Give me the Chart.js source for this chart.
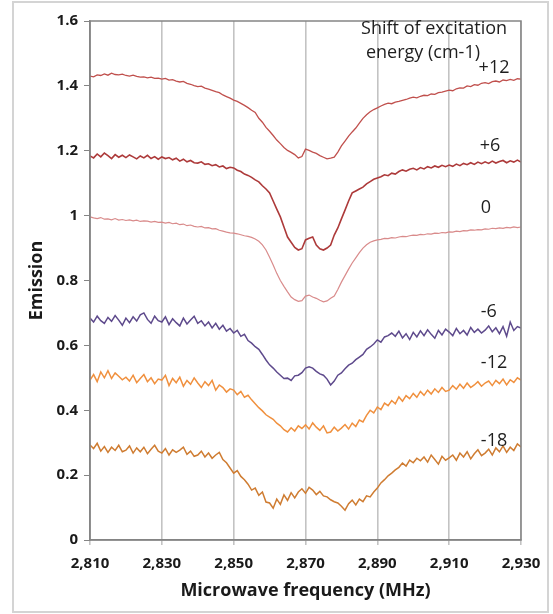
<!DOCTYPE html>
<html>
<head>
<meta charset="utf-8">
<script src="https://cdn.jsdelivr.net/npm/chart.js@4.4.1/dist/chart.umd.min.js"></script>
<style>
    html, body { margin: 0; padding: 0; background: #fff; }
    #wrap { width: 553px; height: 614px; }
</style>
</head>
<body>
<div id="wrap"><canvas id="emission" width="553" height="614"></canvas></div>
<script>
        // 주파수 (MHz)
        const freq = [
            2810, 2811, 2812, 2813, 2814, 2815, 2816, 2817, 2818, 2819,
            2820, 2821, 2822, 2823, 2824, 2825, 2826, 2827, 2828, 2829,
            2830, 2831, 2832, 2833, 2834, 2835, 2836, 2837, 2838, 2839,
            2840, 2841, 2842, 2843, 2844, 2845, 2846, 2847, 2848, 2849,
            2850, 2851, 2852, 2853, 2854, 2855, 2856, 2857, 2858, 2859,
            2860, 2861, 2862, 2863, 2864, 2865, 2866, 2867, 2868, 2869,
            2870, 2871, 2872, 2873, 2874, 2875, 2876, 2877, 2878, 2879,
            2880, 2881, 2882, 2883, 2884, 2885, 2886, 2887, 2888, 2889,
            2890, 2891, 2892, 2893, 2894, 2895, 2896, 2897, 2898, 2899,
            2900, 2901, 2902, 2903, 2904, 2905, 2906, 2907, 2908, 2909,
            2910, 2911, 2912, 2913, 2914, 2915, 2916, 2917, 2918, 2919,
            2920, 2921, 2922, 2923, 2924, 2925, 2926, 2927, 2928, 2929,
            2930
        ];

        const shiftNames = ['+12', '+6', '0', '-6', '-12', '-18'];

        const plus12 = [
            1.430, 1.428, 1.434, 1.432, 1.437, 1.433, 1.439, 1.435, 1.434, 1.436,
            1.432, 1.430, 1.433, 1.429, 1.427, 1.428, 1.425, 1.427, 1.423, 1.424,
            1.421, 1.423, 1.418, 1.419, 1.415, 1.412, 1.414, 1.408, 1.405, 1.401,
            1.398, 1.399, 1.393, 1.390, 1.386, 1.382, 1.379, 1.372, 1.367, 1.362,
            1.356, 1.352, 1.346, 1.340, 1.333, 1.325, 1.318, 1.300, 1.288, 1.272,
            1.260, 1.247, 1.233, 1.222, 1.210, 1.201, 1.195, 1.188, 1.178, 1.182,
            1.205, 1.201, 1.196, 1.192, 1.185, 1.180, 1.175, 1.177, 1.180, 1.196,
            1.215, 1.230, 1.245, 1.258, 1.270, 1.285, 1.300, 1.311, 1.320, 1.327,
            1.332, 1.338, 1.343, 1.347, 1.345, 1.350, 1.352, 1.355, 1.358, 1.362,
            1.365, 1.363, 1.368, 1.371, 1.370, 1.375, 1.374, 1.379, 1.381, 1.384,
            1.387, 1.385, 1.391, 1.394, 1.393, 1.400, 1.398, 1.404, 1.402, 1.408,
            1.410, 1.407, 1.413, 1.415, 1.412, 1.418, 1.416, 1.420, 1.417, 1.422,
            1.421
        ];

        const plus6 = [
            1.184, 1.178, 1.190, 1.181, 1.193, 1.185, 1.176, 1.188, 1.180, 1.186,
            1.179, 1.187, 1.181, 1.175, 1.184, 1.178, 1.186, 1.176, 1.182, 1.174,
            1.181, 1.176, 1.179, 1.172, 1.177, 1.168, 1.174, 1.166, 1.170, 1.163,
            1.162, 1.166, 1.158, 1.160, 1.154, 1.157, 1.150, 1.153, 1.145, 1.149,
            1.147, 1.140, 1.136, 1.128, 1.124, 1.118, 1.110, 1.104, 1.092, 1.082,
            1.070, 1.045, 1.020, 0.996, 0.965, 0.934, 0.918, 0.902, 0.894, 0.898,
            0.925, 0.930, 0.934, 0.909, 0.898, 0.894, 0.900, 0.909, 0.940, 0.962,
            0.990, 1.017, 1.045, 1.070, 1.076, 1.082, 1.088, 1.098, 1.105, 1.112,
            1.116, 1.120, 1.126, 1.123, 1.131, 1.128, 1.136, 1.141, 1.137, 1.143,
            1.146, 1.141, 1.148, 1.144, 1.151, 1.147, 1.153, 1.149, 1.155, 1.151,
            1.156, 1.152, 1.159, 1.154, 1.161, 1.157, 1.163, 1.158, 1.165, 1.160,
            1.166, 1.161, 1.168, 1.162, 1.167, 1.170, 1.163, 1.169, 1.165, 1.171,
            1.165
        ];

        const zero = [
            0.996, 0.993, 0.991, 0.994, 0.989, 0.990, 0.987, 0.991, 0.986, 0.988,
            0.985, 0.987, 0.984, 0.986, 0.982, 0.984, 0.983, 0.980, 0.982, 0.979,
            0.980, 0.977, 0.979, 0.975, 0.977, 0.972, 0.974, 0.969, 0.971, 0.967,
            0.965, 0.967, 0.962, 0.963, 0.959, 0.960, 0.955, 0.952, 0.949, 0.947,
            0.946, 0.944, 0.941, 0.938, 0.936, 0.933, 0.928, 0.921, 0.910, 0.894,
            0.872, 0.848, 0.822, 0.800, 0.782, 0.765, 0.749, 0.741, 0.736, 0.738,
            0.752, 0.755, 0.749, 0.745, 0.739, 0.734, 0.737, 0.745, 0.752, 0.772,
            0.795, 0.815, 0.835, 0.854, 0.870, 0.886, 0.900, 0.910, 0.918, 0.922,
            0.925, 0.927, 0.930, 0.929, 0.932, 0.931, 0.934, 0.936, 0.935, 0.938,
            0.940, 0.939, 0.942, 0.941, 0.944, 0.943, 0.946, 0.945, 0.948, 0.947,
            0.950, 0.949, 0.952, 0.951, 0.954, 0.953, 0.956, 0.955, 0.957, 0.956,
            0.959, 0.958, 0.961, 0.960, 0.962, 0.961, 0.964, 0.962, 0.965, 0.963,
            0.965
        ];

        const minus6 = [
            0.684, 0.672, 0.690, 0.676, 0.668, 0.686, 0.674, 0.692, 0.678, 0.662,
            0.684, 0.670, 0.688, 0.675, 0.694, 0.700, 0.680, 0.668, 0.690, 0.676,
            0.672, 0.688, 0.664, 0.682, 0.670, 0.660, 0.684, 0.666, 0.678, 0.690,
            0.668, 0.676, 0.660, 0.672, 0.654, 0.668, 0.650, 0.662, 0.644, 0.652,
            0.638, 0.646, 0.628, 0.634, 0.615, 0.607, 0.596, 0.588, 0.572, 0.555,
            0.540, 0.530, 0.518, 0.508, 0.498, 0.499, 0.492, 0.506, 0.508, 0.516,
            0.530, 0.534, 0.530, 0.520, 0.512, 0.508, 0.496, 0.478, 0.490, 0.508,
            0.515, 0.528, 0.539, 0.545, 0.556, 0.564, 0.572, 0.588, 0.595, 0.604,
            0.617, 0.610, 0.626, 0.630, 0.638, 0.628, 0.644, 0.623, 0.636, 0.618,
            0.640, 0.626, 0.645, 0.630, 0.648, 0.634, 0.622, 0.646, 0.632, 0.650,
            0.641, 0.630, 0.652, 0.636, 0.646, 0.632, 0.655, 0.640, 0.650, 0.638,
            0.647, 0.660, 0.642, 0.654, 0.636, 0.658, 0.628, 0.672, 0.646, 0.658,
            0.653
        ];

        const minus12 = [
            0.493, 0.510, 0.488, 0.518, 0.500, 0.522, 0.498, 0.515, 0.505, 0.494,
            0.502, 0.490, 0.508, 0.485, 0.498, 0.510, 0.488, 0.500, 0.482, 0.496,
            0.493, 0.508, 0.476, 0.498, 0.485, 0.502, 0.474, 0.492, 0.480, 0.500,
            0.484, 0.470, 0.488, 0.476, 0.492, 0.462, 0.478, 0.470, 0.456, 0.466,
            0.462, 0.448, 0.458, 0.440, 0.446, 0.432, 0.420, 0.408, 0.398, 0.386,
            0.379, 0.372, 0.360, 0.352, 0.340, 0.333, 0.346, 0.336, 0.352, 0.344,
            0.355, 0.342, 0.361, 0.348, 0.338, 0.352, 0.330, 0.333, 0.348, 0.336,
            0.345, 0.356, 0.342, 0.360, 0.350, 0.370, 0.364, 0.384, 0.400, 0.392,
            0.410, 0.402, 0.422, 0.414, 0.430, 0.420, 0.441, 0.428, 0.445, 0.436,
            0.452, 0.440, 0.458, 0.446, 0.462, 0.450, 0.466, 0.455, 0.470, 0.458,
            0.462, 0.476, 0.465, 0.480, 0.468, 0.484, 0.470, 0.478, 0.488, 0.474,
            0.484, 0.490, 0.476, 0.492, 0.482, 0.496, 0.478, 0.494, 0.486, 0.500,
            0.493
        ];

        const minus18 = [
            0.293, 0.282, 0.298, 0.274, 0.288, 0.270, 0.286, 0.276, 0.292, 0.272,
            0.277, 0.290, 0.268, 0.284, 0.272, 0.286, 0.266, 0.280, 0.292, 0.274,
            0.268, 0.282, 0.262, 0.278, 0.270, 0.277, 0.286, 0.264, 0.274, 0.258,
            0.262, 0.274, 0.256, 0.268, 0.252, 0.262, 0.270, 0.248, 0.238, 0.222,
            0.206, 0.214, 0.196, 0.186, 0.172, 0.154, 0.160, 0.138, 0.148, 0.117,
            0.114, 0.098, 0.126, 0.110, 0.139, 0.122, 0.146, 0.130, 0.148, 0.158,
            0.144, 0.162, 0.154, 0.140, 0.150, 0.136, 0.133, 0.124, 0.118, 0.114,
            0.104, 0.092, 0.112, 0.123, 0.108, 0.126, 0.118, 0.136, 0.133, 0.148,
            0.160, 0.176, 0.186, 0.198, 0.206, 0.216, 0.224, 0.237, 0.228, 0.246,
            0.238, 0.252, 0.244, 0.256, 0.240, 0.262, 0.248, 0.234, 0.258, 0.246,
            0.253, 0.262, 0.246, 0.268, 0.256, 0.272, 0.250, 0.266, 0.278, 0.260,
            0.268, 0.280, 0.262, 0.284, 0.272, 0.290, 0.270, 0.286, 0.276, 0.296,
            0.287
        ];

        const yTicks = [0, 0.2, 0.4, 0.6, 0.8, 1, 1.2, 1.4, 1.6];

        const FONT = '"Open Sans", "DejaVu Sans", sans-serif';

        // 곡선마다 색상, 선 굵기
        function makeSet(name, values, color, width) {
            return {
                label: name,
                data: freq.map((f, i) => ({ x: f, y: values[i] })),
                borderColor: color,
                borderWidth: width,
                pointRadius: 0,
                tension: 0,
                fill: false
            };
        }

        // 바깥 테두리, 플롯 박스
        const framePlugin = {
            id: 'frame',
            beforeDraw(chart) {
                const ctx = chart.ctx;
                ctx.save();
                ctx.fillStyle = '#fff';
                ctx.fillRect(0, 0, chart.width, chart.height);
                ctx.strokeStyle = '#d4d4d4';
                ctx.lineWidth = 2;
                ctx.strokeRect(13, 2, 535, 610);
                ctx.restore();
            },
            afterDatasetsDraw(chart) {
                const { ctx, chartArea: a } = chart;
                ctx.save();
                ctx.strokeStyle = '#858585';
                ctx.lineWidth = 1.5;
                ctx.strokeRect(a.left, a.top, a.right - a.left, a.bottom - a.top);
                ctx.restore();
            }
        };

        // 곡선 이름 + 설명
        const labelPlugin = {
            id: 'shiftLabels',
            afterDraw(chart) {
                const { ctx, scales: { x, y } } = chart;
                const spots = [
                    [2922.5, 1.455], [2921.4, 1.215], [2920.2, 1.023],
                    [2921.0, 0.703], [2922.5, 0.546], [2922.5, 0.305]
                ];
                ctx.save();
                ctx.fillStyle = '#1e1e1e';
                ctx.textAlign = 'center';
                ctx.textBaseline = 'middle';
                ctx.font = '18px ' + FONT;
                shiftNames.forEach((n, i) => {
                    ctx.fillText(n, x.getPixelForValue(spots[i][0]), y.getPixelForValue(spots[i][1]));
                });
                ctx.fillText('Shift of excitation', x.getPixelForValue(2905.8), y.getPixelForValue(1.576));
                ctx.fillText('energy (cm-1)', x.getPixelForValue(2902.7), y.getPixelForValue(1.502));
                ctx.restore();
            }
        };

        const ctx = document.getElementById('emission').getContext('2d');

        new Chart(ctx, {
            type: 'line',
            data: {
                datasets: [
                    makeSet('+12', plus12, '#c0504d', 1.3),
                    makeSet('+6', plus6, '#ad3a3a', 1.6),
                    makeSet('0', zero, '#d98b8b', 1.2),
                    makeSet('-6', minus6, '#5e4a8c', 1.5),
                    makeSet('-12', minus12, '#f0903e', 1.5),
                    makeSet('-18', minus18, '#cf7c31', 1.5)
                ]
            },
            options: {
                responsive: false,
                animation: false,
                layout: {
                    padding: { left: 24, right: 32, top: 21, bottom: 8 }
                },
                plugins: {
                    legend: { display: false },
                    tooltip: { enabled: false }
                },
                scales: {
                    x: {
                        type: 'linear',
                        min: 2810,
                        max: 2930,
                        afterFit: (s) => { s.height = 66; },
                        ticks: {
                            stepSize: 20,
                            padding: 10,
                            color: '#1a1a1a',
                            font: { family: FONT, size: 15, weight: 'bold' },
                            maxRotation: 0,
                            callback: (v) => v.toLocaleString('en-US')
                        },
                        grid: {
                            color: '#c3c3c3',
                            lineWidth: 1.6,
                            tickLength: 5
                        },
                        border: { color: '#858585', width: 1.5 },
                        title: {
                            display: true,
                            text: 'Microwave frequency (MHz)',
                            color: '#1a1a1a',
                            font: { family: FONT, size: 18, weight: 'bold' },
                            padding: { top: 4, bottom: 4 }
                        }
                    },
                    y: {
                        min: 0,
                        max: 1.6,
                        afterFit: (s) => { s.width = 66; },
                        afterBuildTicks: (s) => { s.ticks = yTicks.map(v => ({ value: v })); },
                        ticks: {
                            padding: 6,
                            color: '#1a1a1a',
                            font: { family: FONT, size: 15, weight: 'bold' },
                            callback: (v) => String(parseFloat(v.toFixed(1)))
                        },
                        grid: {
                            drawOnChartArea: false,
                            color: '#858585',
                            tickLength: 6
                        },
                        border: { color: '#858585', width: 1.5 },
                        title: {
                            display: true,
                            text: 'Emission',
                            color: '#1a1a1a',
                            font: { family: FONT, size: 18, weight: 'bold' },
                            padding: { top: 2, bottom: 4 }
                        }
                    }
                }
            },
            plugins: [framePlugin, labelPlugin]
        });
</script>
</body>
</html>
